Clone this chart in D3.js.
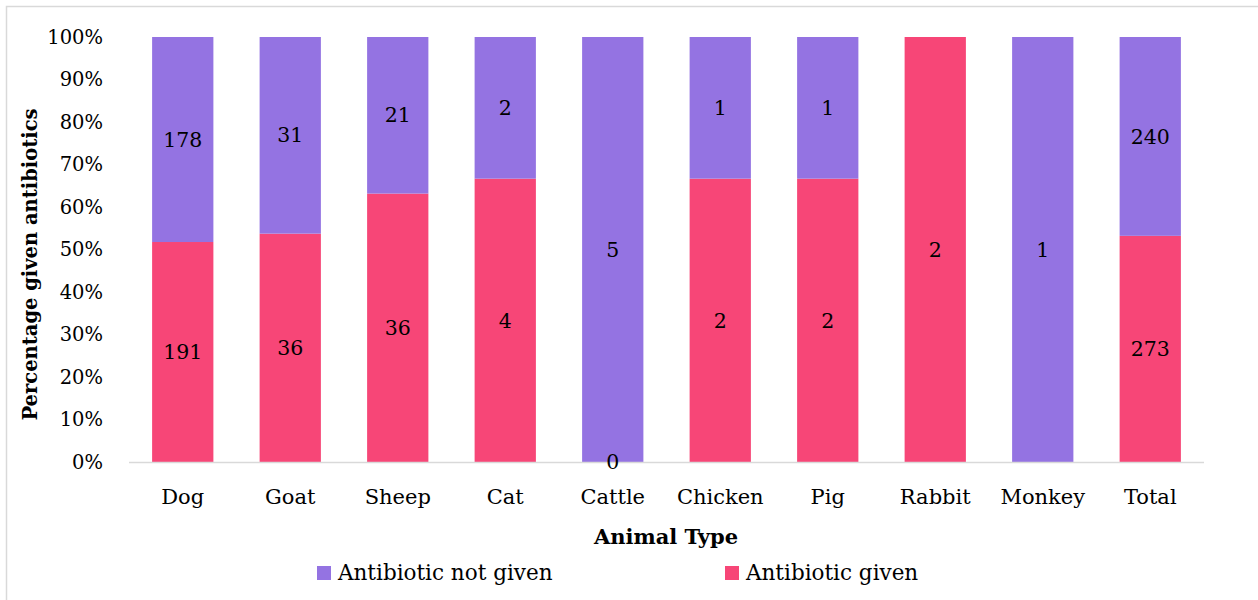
<!DOCTYPE html>
<html>
<head>
<meta charset="utf-8">
<script src="https://cdn.jsdelivr.net/npm/d3@7"></script>
<style>
  body { margin: 0; background: #fff; }
  svg text { font-family: "DejaVu Serif", "Liberation Serif", serif; fill: #000; }
</style>
</head>
<body>
<svg id="chart" width="1258" height="600"></svg>
<script>
// data
var animals   = ['Dog', 'Goat', 'Sheep', 'Cat', 'Cattle', 'Chicken', 'Pig', 'Rabbit', 'Monkey', 'Total'];
var given     = [191, 36, 36, 4, 0, 2, 2, 2, null, 273];
var notGiven  = [178, 31, 21, 2, 5, 1, 1, null, 1, 240];
var yTicks    = [0, 0.1, 0.2, 0.3, 0.4, 0.5, 0.6, 0.7, 0.8, 0.9, 1];
var seriesNames = ['Antibiotic not given', 'Antibiotic given'];

var colGiven = '#f74677', colNot = '#9473e2';
var fontFam = '"DejaVu Serif", "Liberation Serif", serif';

var svg = d3.select('#chart');
var margin = {top: 37, left: 129, right: 54, bottom: 138};
var W = 1258, H = 600;

// outer frame
svg.append('rect')
    .attr('x', 6.5).attr('y', 6.5)
    .attr('width', W + 10).attr('height', H + 10)
    .attr('fill', 'none').attr('stroke', '#d9d9d9').attr('stroke-width', 1.5);

var x = d3.scaleBand()
    .domain(animals)
    .range([margin.left, W - margin.right])
    .paddingInner(0.43).paddingOuter(0.215);

var y = d3.scaleLinear()
    .domain([0, 1])
    .range([H - margin.bottom, margin.top]);

var rows = animals.map(function(a, i){
    var g = given[i] || 0, n = notGiven[i] || 0, t = g + n;
    return {animal: a, given: given[i], notGiven: notGiven[i], pg: g / t, pn: n / t};
});

var bars = svg.append('g');

// given (bottom)
bars.selectAll('rect.given')
    .data(rows).enter().append('rect')
    .attr('class', 'given')
    .attr('x', function(d){ return x(d.animal); })
    .attr('width', x.bandwidth())
    .attr('y', function(d){ return y(d.pg); })
    .attr('height', function(d){ return y(0) - y(d.pg); })
    .attr('fill', colGiven);

// not given (top)
bars.selectAll('rect.not')
    .data(rows).enter().append('rect')
    .attr('class', 'not')
    .attr('x', function(d){ return x(d.animal); })
    .attr('width', x.bandwidth())
    .attr('y', function(d){ return y(1); })
    .attr('height', function(d){ return y(d.pg) - y(1); })
    .attr('fill', colNot);

// axis line
svg.append('line')
    .attr('x1', margin.left).attr('x2', W - margin.right)
    .attr('y1', y(0) + 0.5).attr('y2', y(0) + 0.5)
    .attr('stroke', '#d9d9d9').attr('stroke-width', 1.5);

// data labels
var labels = svg.append('g').attr('font-size', 20.5).attr('text-anchor', 'middle');
rows.forEach(function(d){
    var cx = x(d.animal) + x.bandwidth() / 2;
    if (d.given !== null) {
        labels.append('text')
            .attr('x', cx).attr('y', y(d.pg / 2)).attr('dy', '0.35em')
            .text(d.given);
    }
    if (d.notGiven !== null) {
        labels.append('text')
            .attr('x', cx).attr('y', y(d.pg + d.pn / 2)).attr('dy', '0.35em')
            .text(d.notGiven);
    }
});

// y tick labels
var yAxis = d3.axisLeft(y).tickValues(yTicks).tickFormat(d3.format('.0%')).tickSize(0).tickPadding(26);
var gy = svg.append('g').attr('transform', 'translate(' + margin.left + ',0)').call(yAxis);
gy.select('.domain').remove();
gy.attr('font-family', fontFam).attr('font-size', 19.5);

// x tick labels
var xAxis = d3.axisBottom(x).tickSize(0).tickPadding(27);
var gx = svg.append('g').attr('transform', 'translate(0,' + y(0) + ')').call(xAxis);
gx.select('.domain').remove();
gx.attr('font-family', fontFam).attr('font-size', 21);

// axis titles
svg.append('text')
    .attr('x', 666).attr('y', 544)
    .attr('text-anchor', 'middle').attr('font-size', 21).attr('font-weight', 'bold')
    .text('Animal Type');

svg.append('text')
    .attr('transform', 'translate(37,' + (y(0.5) + 15) + ') rotate(-90)')
    .attr('text-anchor', 'middle').attr('font-size', 19.5).attr('font-weight', 'bold')
    .text('Percentage given antibiotics');

// legend
var legend = svg.append('g').attr('font-size', 21.5);
var legendX = [317, 725];
[colNot, colGiven].forEach(function(c, i){
    legend.append('rect')
        .attr('x', legendX[i]).attr('y', 566)
        .attr('width', 14).attr('height', 14).attr('fill', c);
    legend.append('text')
        .attr('x', legendX[i] + 21).attr('y', 580)
        .text(seriesNames[i]);
});
</script>
</body>
</html>
